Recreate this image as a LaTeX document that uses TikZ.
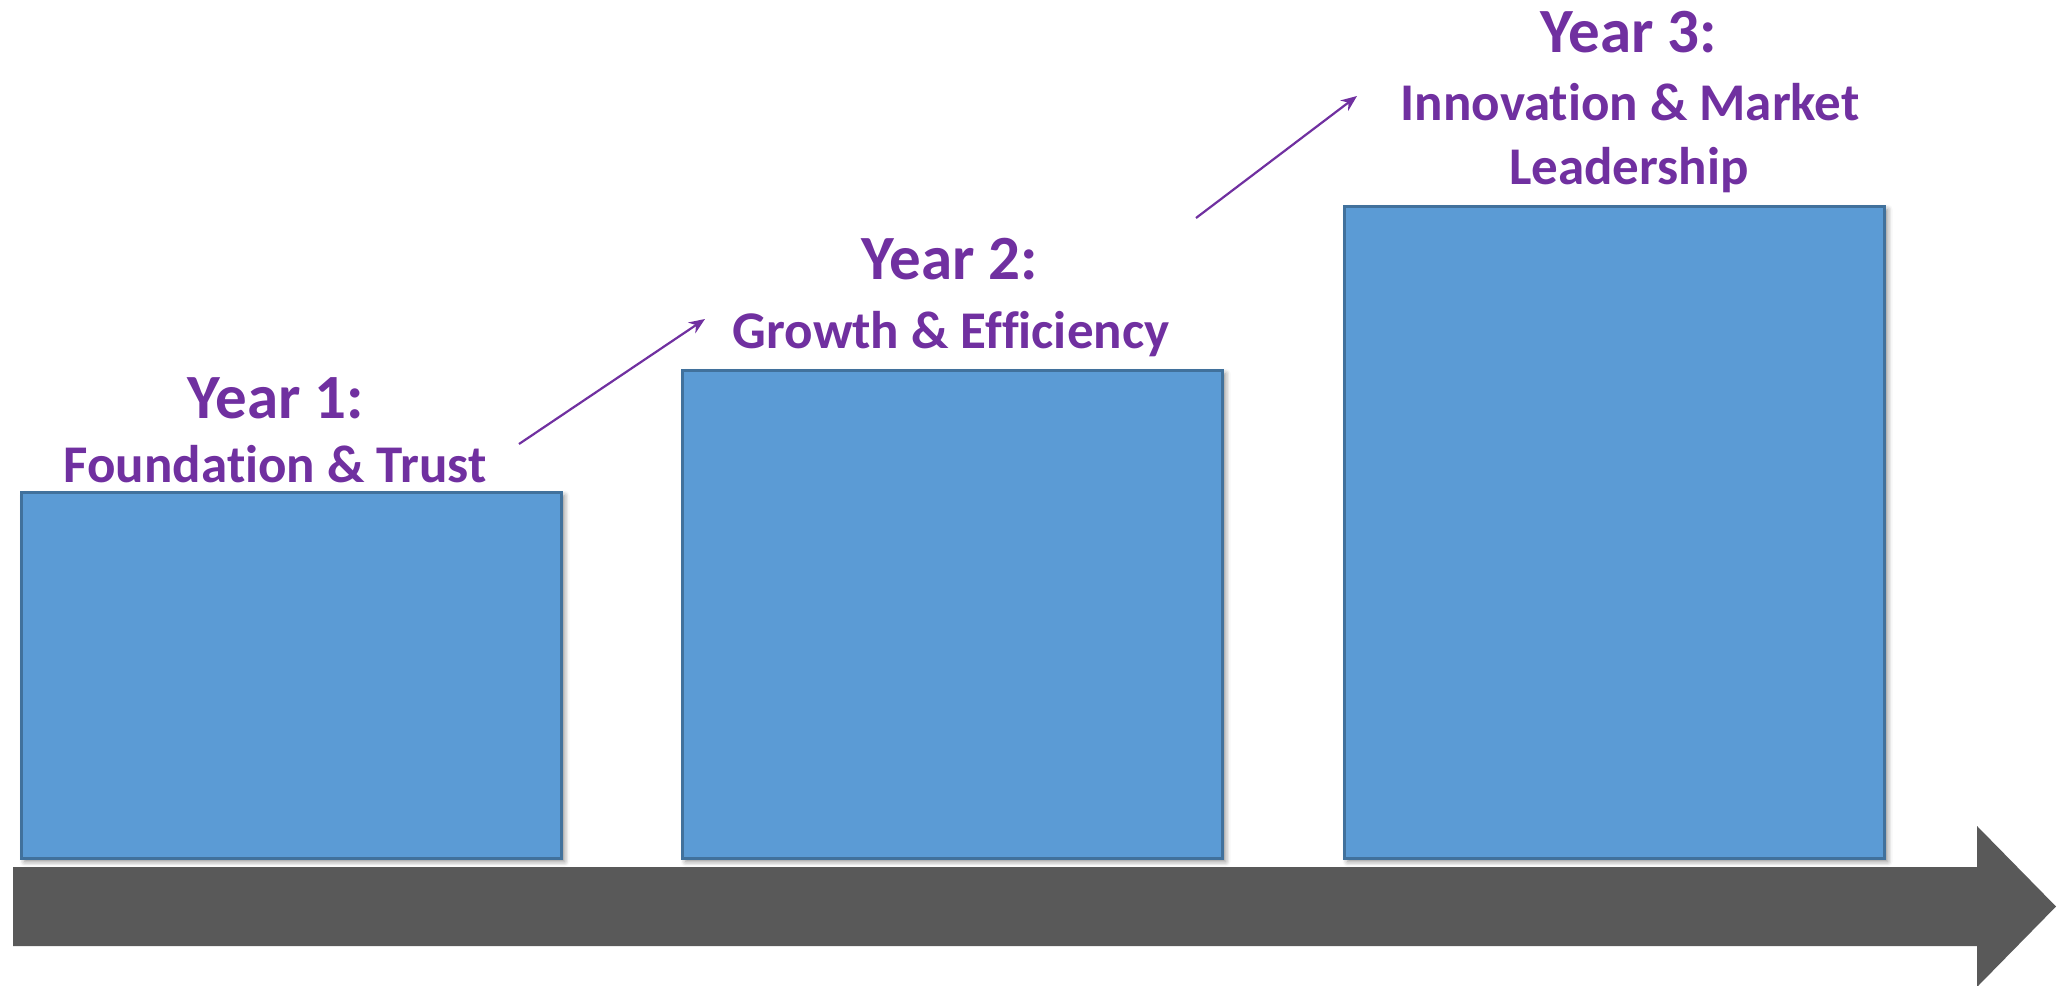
\documentclass[tikz,border=0pt]{standalone}
\usepackage{fontspec}
\setmainfont{Carlito}[Ligatures=CommonOff]
\usetikzlibrary{arrows.meta,shadows.blur}
\definecolor{ttl}{HTML}{7030A0}
\definecolor{boxfill}{HTML}{5B9BD5}
\definecolor{boxline}{HTML}{41719C}
\definecolor{axisgray}{HTML}{595959}
\tikzset{
  yearbox/.style={rectangle, fill=boxfill, draw=boxline, line width=3.2pt, inner sep=0pt,
    minimum width=540pt, anchor=north west,
    blur shadow={shadow xshift=3pt, shadow yshift=-3pt, shadow blur radius=5pt, shadow opacity=45}},
  yeartitle/.style={text=ttl, inner sep=0pt, anchor=base, font=\fontsize{63}{75}\selectfont\bfseries},
  yearsub/.style={text=ttl, inner sep=0pt, anchor=base, font=\fontsize{53}{64}\selectfont\bfseries},
  growarrow/.style={draw=ttl, line width=2.2pt, -{Stealth[length=16pt,width=13pt]}}
}
\begin{document}
\begin{tikzpicture}[x=1pt,y=-1pt]
\useasboundingbox (0,0) rectangle (2060,985);
% timeline arrow
\fill[axisgray] (13,867) -- (1977,867) -- (1977,826) -- (2056,906.5) -- (1977,987) -- (1977,946) -- (13,946) -- cycle;
% boxes
\node[yearbox, minimum height=366pt] (b1) at (20,491) {};
\node[yearbox, minimum height=488pt] (b2) at (681,369) {};
\node[yearbox, minimum height=652pt] (b3) at (1343,205) {};
% titles
\node[yeartitle] (t1) at (276,418) {Year 1:};
\node[yearsub] (s1) at (275,482) {Foundation \& Trust};
\node[yeartitle] (t2) at (950,279) {Year 2:};
\node[yearsub] (s2) at (951,348) {Growth \& Efficiency};
\node[yeartitle] (t3) at (1629,52) {Year 3:};
\node[yearsub] (s3a) at (1630,120) {Innovation \& Market};
\node[yearsub] (s3b) at (1629,184) {Leadership};
% growth arrows
\coordinate (g1s) at (519,444);
\coordinate (g1e) at (705,319);
\coordinate (g2s) at (1196,218);
\coordinate (g2e) at (1357,96);
\draw[growarrow] (g1s) -- (g1e);
\draw[growarrow] (g2s) -- (g2e);
\end{tikzpicture}
\end{document}
